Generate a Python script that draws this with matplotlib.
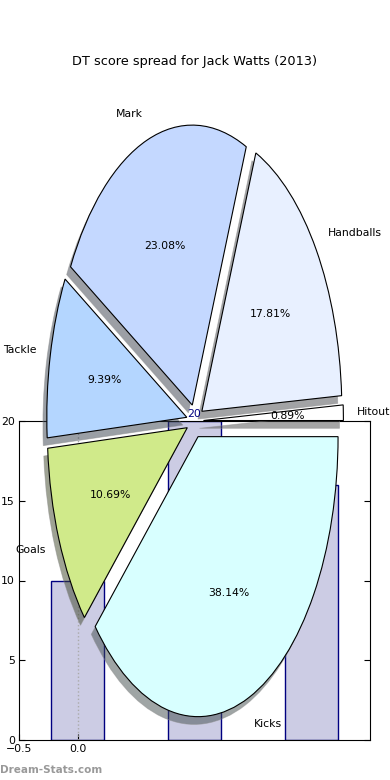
import matplotlib
matplotlib.use('Agg')
import matplotlib.pyplot as plt

# Pie data
labels = ['Hitout', 'Handballs', 'Mark', 'Tackle', 'Goals', 'Kicks']
shares = [0.89, 17.81, 23.08, 9.39, 10.69, 38.14]
wedge_colors = ['#ffffff', '#e8f0ff', '#c4d8ff', '#b4d6ff', '#d0ea8a', '#d8ffff']
explode = [0.06, 0.06, 0.06, 0.06, 0.06, 0.06]

# Background bar data
bar_x = [0, 1, 2]
bar_h = [10, 20, 16]
yticks = [0, 5, 10, 15, 20]
xticks = [-0.5, 0.0]
xticklabels = ['\u22120.5', '0.0']

FS = 7.8

fig = plt.figure(figsize=(3.9, 7.8), dpi=100)

# bar axes underneath
axb = fig.add_axes([19/390, 40/780, 351/390, 319/780])
axb.bar(bar_x, bar_h, width=0.45, color='#ccccE4', edgecolor='#000080', linewidth=1)
axb.plot([0, 0], [0, 20], ls=':', color='#aaaaaa', lw=1)
axb.set_xlim(-0.5, 2.5)
axb.set_ylim(0, 20)
axb.set_xticks(xticks)
axb.set_xticklabels(xticklabels)
axb.set_yticks(yticks)
axb.tick_params(direction='in', labelsize=FS, right=True, top=False, length=4, pad=3)

# pie axes on top
axp = fig.add_axes([20/390, 9/780, 350/390, 700/780])
wedges, texts, autotexts = axp.pie(
    shares, labels=labels, colors=wedge_colors, explode=explode,
    autopct='%1.2f%%', startangle=0,
    shadow={'ox': -0.02, 'oy': -0.02, 'edgecolor': '#8c8c8c', 'linewidth': 0.6},
    wedgeprops={'edgecolor': 'black', 'linewidth': 0.8},
    textprops={'fontsize': FS})
axp.set_aspect('auto')
axp.set_xlim(-1.25, 1.25)
axp.set_ylim(-1.25, 1.25)
axp.patch.set_visible(False)

# value label of middle bar, drawn above everything
axp.annotate(str(bar_h[1]), xy=(bar_x[1], bar_h[1]), xycoords=axb.transData,
             xytext=(0, 1.5), textcoords='offset points',
             ha='center', va='bottom', color='#000080', fontsize=FS, zorder=10)

fig.text(0.5, 1 - 61/780, 'DT score spread for Jack Watts (2013)',
         ha='center', va='center', fontsize=9.3)
fig.text(0.0, 1 - 770/780, 'Dream-Stats.com', ha='left', va='center',
         color='#999999', fontsize=7.5, fontweight='bold')

fig.savefig('out.png', dpi=100)
